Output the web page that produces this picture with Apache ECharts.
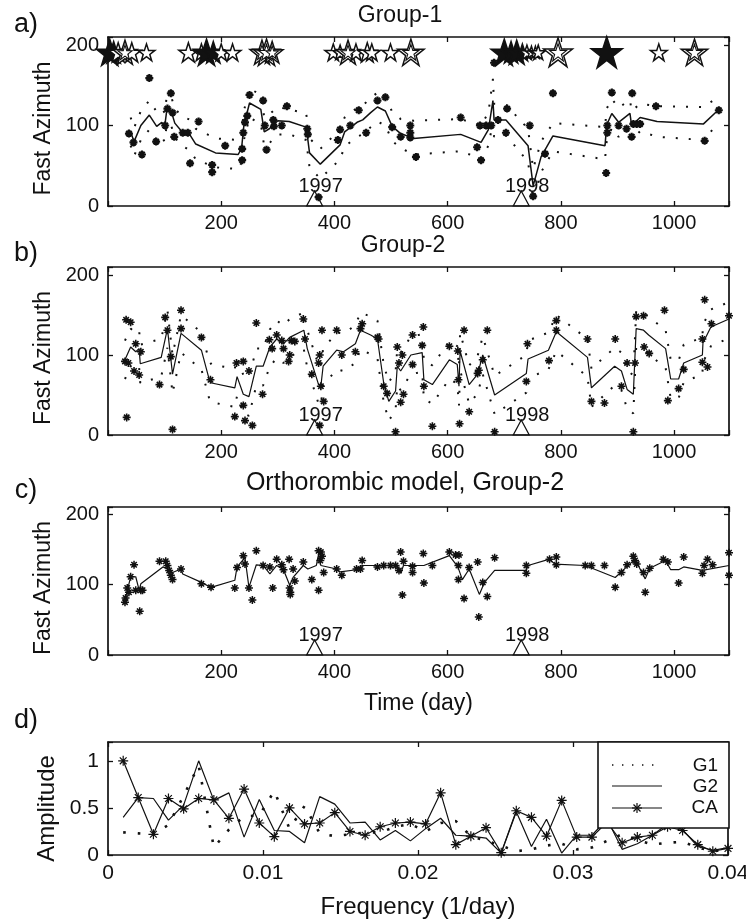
<!DOCTYPE html>
<html><head><meta charset="utf-8">
<script src="https://cdn.jsdelivr.net/npm/echarts/dist/echarts.min.js"></script>
<style>html,body{margin:0;padding:0;background:#fff}#c{width:746px;height:923px}</style>
</head><body><div id="c"></div>
<script>
// ---------- Panel a (Group-1) ----------
const tA  = [40,46,58,73,86,95,100,104,112,118,130,145,155,190,230,236,240,250,270,276,285,300,320,350,352,356,375,410,418,440,450,464,476,490,502,517,540,623,659,672,680,682,703,742,751,765,786,878,881,890,902,922,925,940,970,1052,1079];
const vA  = [92,80,100,113,99,104,98,120,117,103,93,88,77,66,64,72,100,128,120,92,96,106,105,98,88,66,52,76,92,104,107,116,123,118,99,90,84,89,79,95,131,107,107,75,25,61,87,75,101,115,104,115,100,110,105,102,120];
const upA = [110,97,118,131,117,121,116,137,135,121,112,107,96,84,82,90,118,146,138,110,114,123,120,115,106,84,71,95,110,122,125,134,141,136,117,108,106,108,100,116,158,127,126,96,46,80,103,98,121,133,122,132,118,127,124,123,136];
const loA = [75,62,82,95,81,86,80,102,99,85,75,69,58,48,46,54,82,110,102,74,78,89,89,82,71,48,34,58,74,86,89,98,105,100,81,72,64,68,59,75,104,86,88,55,8,42,68,58,81,97,86,98,82,93,86,82,104];
const ptA_t = [37,45,60,73,85,101,105,111,114,117,132,141,145,160,184,184,207,237,237,239,242,246,250,274,277,280,292,293,307,316,352,353,372,406,410,428,443,456,476,490,502,517,534,534,534,544,623,652,659,657,668,677,682,689,703,705,745,751,772,786,880,882,882,890,902,926,916,925,928,934,940,968,1054,1079];
const ptA_v = [90,79,64,159,80,100,121,140,116,86,91,91,53,105,51,42,75,57,71,91,104,112,138,131,100,70,107,99,100,124,96,89,11,82,95,100,119,91,131,135,98,86,100,91,85,61,110,73,57,100,100,100,178,107,91,121,100,12,65,140,41,100,91,141,100,140,96,86,102,102,102,124,81,119];
const starT    = [3,10,18,30,42,68,142,165,174,186,200,220,272,280,290,398,410,424,438,458,466,499,535,700,712,722,732,740,748,755,760,795,881,973,1036];
const starSize = [22,18,16,20,16,14,16,14,22,18,14,14,20,22,18,14,12,20,14,16,14,14,22,22,18,20,14,12,10,10,12,24,26,14,22];
const starFill = [1,1,0,0,0,0,0,0,1,1,0,0,0,0,0,0,0,0,0,0,0,0,0,1,1,1,1,0,0,0,0,0,1,0,0];

// ---------- Panel b (Group-2) ----------
const tB  = [30,40,49,55,57,94,105,114,129,165,179,183,224,228,239,249,262,274,286,298,310,321,346,352,372,376,380,404,416,437,446,464,476,487,496,508,511,517,535,555,558,573,603,617,620,622,638,653,662,683,739,742,778,792,847,854,895,907,917,928,933,946,955,985,994,1008,1017,1050,1051,1065,1097];
const vB  = [94,110,104,108,89,97,133,76,127,106,69,65,59,73,51,48,86,86,110,120,114,122,131,108,63,61,86,106,104,114,131,125,120,65,42,55,86,80,100,103,69,63,94,88,61,105,63,76,100,50,77,95,106,129,97,59,86,80,57,51,133,131,125,108,70,70,90,100,115,135,145];
const upB = [118,133,128,131,113,120,156,100,150,128,92,88,83,96,75,72,108,108,132,143,137,145,153,131,87,85,108,128,127,137,153,148,143,88,66,79,108,103,123,126,93,87,117,111,85,128,87,99,123,74,100,118,128,150,120,83,109,103,80,75,155,153,148,131,94,93,113,122,138,157,166];
const loB = [70,86,80,84,65,73,109,52,103,82,45,41,35,49,27,24,62,62,86,96,90,98,107,84,39,37,62,82,80,90,107,101,96,41,18,31,62,56,76,79,45,39,70,64,37,81,39,52,76,26,53,71,82,105,73,35,62,56,33,27,109,107,101,84,46,46,66,76,91,111,121];
const ptB_t = [32,40,30,36,33,49,46,55,58,91,101,105,111,114,129,129,165,181,227,239,224,239,242,255,249,262,273,285,290,298,307,310,319,321,324,330,345,348,360,372,374,378,374,381,376,404,413,437,449,446,476,478,487,493,508,511,514,517,520,522,538,538,557,555,558,573,603,618,619,621,629,638,653,655,662,670,683,741,739,779,792,792,847,854,877,896,907,917,928,931,933,946,947,956,983,989,1008,1017,1050,1050,1059,1054,1066,1097];
const ptB_v = [144,141,92,90,22,114,80,75,104,63,147,131,98,7,156,133,122,69,90,92,23,37,18,12,80,140,51,119,108,125,118,108,92,100,118,117,145,120,76,90,100,131,12,42,61,131,100,104,139,133,122,120,61,52,4,110,90,41,100,51,125,88,135,112,61,11,111,105,69,14,131,29,77,81,94,131,4,114,67,93,143,131,120,42,40,120,61,90,4,90,148,149,110,102,156,43,58,82,120,91,85,169,139,149];

// ---------- Panel c (Orthorombic model, Group-2) ----------
const tC  = [30,40,49,55,58,97,105,114,129,132,165,182,224,228,242,249,262,274,286,298,310,321,327,345,353,368,372,376,404,410,439,449,464,511,517,522,558,603,618,626,638,656,665,683,739,742,780,789,843,896,931,949,957,985,994,1008,1017,1050,1097];
const vC  = [78,111,111,92,101,125,122,117,122,115,103,96,106,125,138,96,128,127,115,127,121,99,110,127,122,127,143,127,122,118,121,127,127,127,116,127,127,141,125,107,122,86,103,120,120,127,136,129,127,110,136,108,123,134,121,121,125,120,127];
const ptC_t = [30,31,34,37,40,46,49,56,58,61,91,102,105,108,111,114,129,165,182,224,228,239,242,249,255,262,274,286,291,298,307,310,320,321,322,322,327,330,345,360,372,372,375,376,378,381,404,413,439,446,449,476,487,499,508,514,517,520,522,538,538,557,558,573,603,614,620,619,619,629,638,653,655,662,670,683,739,739,780,792,792,843,854,877,896,907,917,928,931,934,946,949,957,981,989,1008,1017,1050,1053,1059,1068,1097,1097];
const ptC_v = [75,81,95,89,111,128,92,62,92,92,133,133,127,120,113,107,122,101,96,95,124,141,129,95,78,148,127,125,95,136,128,121,136,95,89,86,122,105,132,107,148,92,134,146,140,117,122,113,122,122,134,125,127,127,127,120,146,85,133,126,117,144,102,127,146,142,142,127,107,80,124,132,54,103,83,138,127,116,136,139,128,127,127,127,96,117,128,140,134,129,117,89,123,136,132,102,139,116,127,136,128,113,145];

// year markers
const yearT = [365, 730];
const yearLbl = ['1997', '1998'];

// ---------- Panel d (spectra) ----------
const freq = [0.00098,0.00195,0.00293,0.0039,0.00488,0.00585,0.00683,0.0078,0.00878,0.00976,0.01073,0.01171,0.01268,0.01366,0.01463,0.01561,0.01659,0.01756,0.01854,0.01951,0.02049,0.02146,0.02244,0.02341,0.02439,0.02537,0.02634,0.02732,0.02829,0.02927,0.03024,0.03122,0.0322,0.03317,0.03415,0.03512,0.0361,0.03707,0.03805,0.03902,0.04];
const ampG1 = [0.24,0.23,0.22,0.32,0.63,0.95,0.08,0.27,0.41,0.42,0.68,0.28,0.52,0.23,0.20,0.22,0.24,0.24,0.30,0.33,0.25,0.34,0.36,0.20,0.15,0.10,0.04,0.06,0.10,0.12,0.06,0.08,0.15,0.22,0.16,0.11,0.13,0.14,0.08,0.04,0.06];
const ampG2 = [0.40,0.61,0.60,0.37,0.53,1.00,0.58,0.66,0.19,0.59,0.26,0.25,0.13,0.62,0.54,0.34,0.35,0.16,0.26,0.15,0.28,0.39,0.21,0.20,0.18,0.02,0.46,0.09,0.38,0.02,0.21,0.21,0.38,0.06,0.12,0.21,0.33,0.27,0.09,0.05,0.08];
const ampCA = [1.00,0.61,0.22,0.60,0.49,0.60,0.585,0.39,0.70,0.34,0.195,0.50,0.33,0.34,0.45,0.25,0.21,0.30,0.34,0.35,0.33,0.66,0.11,0.20,0.29,0.025,0.47,0.40,0.20,0.58,0.19,0.19,0.35,0.13,0.19,0.21,0.30,0.26,0.11,0.04,0.07];

const xTicksDay = [200, 400, 600, 800, 1000];
const yTicksAz = [0, 100, 200];

// ---------- build ----------
const F = 'Liberation Sans, Arial, Helvetica, sans-serif';
const INK = '#111111';
const AST = 'path://M0 5L10 5M5 0L5 10M1.6 1.6L8.4 8.4M8.4 1.6L1.6 8.4';
const STAR = 'path://M50 0L61.8 35.1L97.6 35.1L68.8 56.7L79.4 90.5L50 69.1L20.6 90.5L31.2 56.7L2.4 35.1L38.2 35.1Z';
const STAR_LEVEL = 191;
const STAR_SCALE = 1.2;
const pairs = (xs, ys) => xs.map((x, i) => [x, ys[i]]);

const grids = [
  {left:108, top:37,  width:621, height:169},
  {left:108, top:267, width:621, height:168},
  {left:108, top:507, width:621, height:148},
  {left:108, top:742, width:620, height:113}
].map(g => Object.assign(g, {containLabel:false, outerBoundsMode:'none'}));

const axLine = {show:true, onZero:false, lineStyle:{color:INK, width:1.7}};
const axTick = {show:true, inside:true, length:5, lineStyle:{color:INK, width:1.3}};
const noSplit = {show:false};

function dayX(gi, pos, name) {
  const ax = {gridIndex:gi, type:'value', position:pos, min:0, max:1097, interval:200,
    axisLine:axLine, axisTick:axTick, splitLine:noSplit,
    axisLabel:{show:pos==='bottom', fontSize:20, color:INK, fontFamily:F, margin:7,
      formatter: v => xTicksDay.indexOf(v) >= 0 ? String(v) : ''}};
  if (name) Object.assign(ax, {name:name, nameLocation:'middle', nameGap:37,
    nameTextStyle:{fontSize:23, color:INK, fontFamily:F}});
  return ax;
}
function azY(gi, pos) {
  const ax = {gridIndex:gi, type:'value', position:pos, min:0, max:210, interval:100,
    axisLine:axLine, axisTick:axTick, splitLine:noSplit,
    axisLabel:{show:pos==='left', fontSize:20, color:INK, fontFamily:F, margin:9,
      formatter: v => yTicksAz.indexOf(v) >= 0 ? String(v) : ''}};
  if (pos === 'left') Object.assign(ax, {name:'Fast Azimuth', nameLocation:'middle', nameGap:50,
    nameTextStyle:{fontSize:23, color:INK, fontFamily:F, padding:[0, 14, 0, 0]}});
  return ax;
}
function fX(pos) {
  const ax = {gridIndex:3, type:'value', position:pos, min:0, max:0.04, interval:0.01,
    axisLine:axLine, axisTick:axTick, splitLine:noSplit,
    axisLabel:{show:pos==='bottom', fontSize:21, color:INK, fontFamily:F, margin:8}};
  if (pos === 'bottom') Object.assign(ax, {name:'Frequency (1/day)', nameLocation:'middle', nameGap:40,
    nameTextStyle:{fontSize:24, color:INK, fontFamily:F}});
  return ax;
}
function aY(pos) {
  const ax = {gridIndex:3, type:'value', position:pos, min:0, max:1.2, interval:0.5,
    axisLine:axLine, axisTick:axTick, splitLine:noSplit,
    axisLabel:{show:pos==='left', fontSize:21, color:INK, fontFamily:F, margin:9,
      formatter: v => (Math.abs(v * 2 - Math.round(v * 2)) < 1e-9) ? String(+v.toFixed(2)) : ''}};
  if (pos === 'left') Object.assign(ax, {name:'Amplitude', nameLocation:'middle', nameGap:40,
    nameTextStyle:{fontSize:24, color:INK, fontFamily:F, padding:[0, 20, 0, 0]}});
  return ax;
}

const xAxis = [dayX(0,'bottom'), dayX(0,'top'), dayX(1,'bottom'), dayX(1,'top'),
               dayX(2,'bottom','Time (day)'), dayX(2,'top'), fX('bottom'), fX('top')];
const yAxis = [azY(0,'left'), azY(0,'right'), azY(1,'left'), azY(1,'right'),
               azY(2,'left'), azY(2,'right'), aY('left'), aY('right')];

function dotted(ai, xs, ys) {
  return {type:'line', xAxisIndex:ai, yAxisIndex:ai, data:pairs(xs, ys), showSymbol:false, silent:true,
    lineStyle:{color:INK, width:2, type:[2, 11], opacity:1}, z:3};
}
function solid(ai, xs, ys, w) {
  return {type:'line', xAxisIndex:ai, yAxisIndex:ai, data:pairs(xs, ys), showSymbol:false, silent:true,
    lineStyle:{color:INK, width:w || 1.3, opacity:1}, z:4};
}
function asterisks(ai, xs, ys, size, bw) {
  return {type:'scatter', xAxisIndex:ai, yAxisIndex:ai, data:pairs(xs, ys), symbol:AST, symbolSize:size,
    silent:true, itemStyle:{color:'rgba(0,0,0,0)', borderColor:INK, borderWidth:bw, opacity:1}, z:5};
}
function years(ai) {
  return {type:'scatter', xAxisIndex:ai, yAxisIndex:ai, clip:false, silent:true, z:6,
    data: yearT.map((t, i) => ({value:[t, 0], name:yearLbl[i]})),
    symbol:'triangle', symbolSize:[16, 15], symbolOffset:[0, '-50%'],
    itemStyle:{color:'rgba(0,0,0,0)', borderColor:INK, borderWidth:1.2, opacity:1},
    label:{show:true, formatter:'{b}', position:'top', distance:-6, offset:[6, 0],
      fontSize:20, color:INK, fontFamily:F, opacity:1}};
}

const starData = starT.map((t, i) => [t, STAR_LEVEL, starSize[i], starFill[i]]);

const series = [
  dotted(0, tA, upA), dotted(0, tA, loA), solid(0, tA, vA, 1.5),
  asterisks(0, ptA_t, ptA_v, 8, 2.2),
  {type:'scatter', xAxisIndex:0, yAxisIndex:0, data:starData, symbol:STAR, clip:false, silent:true, z:8,
    symbolSize: d => d[2] * STAR_SCALE,
    itemStyle:{color: p => p.data[3] ? INK : '#fff', borderColor:INK, borderWidth:1.5, opacity:1}},
  {type:'scatter', xAxisIndex:0, yAxisIndex:0, data:starData.filter(d => !d[3] && d[2] >= 18), symbol:STAR,
    clip:false, silent:true, z:9, symbolSize: d => d[2] * STAR_SCALE * 0.6,
    itemStyle:{color:'#fff', borderColor:INK, borderWidth:1.1, opacity:1}},
  years(0),

  dotted(2, tB, upB), dotted(2, tB, loB), solid(2, tB, vB, 1.2),
  asterisks(2, ptB_t, ptB_v, 8, 1.6),
  years(2),

  solid(4, tC, vC, 1.2),
  asterisks(4, ptC_t, ptC_v, 8, 1.5),
  years(4),

  {type:'line', xAxisIndex:6, yAxisIndex:6, data:pairs(freq, ampG1), showSymbol:false, silent:true, z:3,
    lineStyle:{color:INK, width:2.6, type:[2.6, 12]}},
  {type:'line', xAxisIndex:6, yAxisIndex:6, data:pairs(freq, ampG2), showSymbol:false, silent:true, z:4,
    lineStyle:{color:INK, width:1.2}},
  {type:'line', xAxisIndex:6, yAxisIndex:6, data:pairs(freq, ampCA), showSymbol:true, showAllSymbol:true,
    symbol:AST, symbolSize:10, silent:true, z:5,
    itemStyle:{color:'rgba(0,0,0,0)', borderColor:INK, borderWidth:1.2, opacity:1},
    lineStyle:{color:INK, width:1.2}}
];

function txt(x, y, s, size, align) {
  return {type:'text', x:x, y:y, silent:true, z:100,
    style:{text:s, fontSize:size, fontFamily:F, fill:INK, align:align || 'center', verticalAlign:'middle',
      textAlign:align || 'center', textVerticalAlign:'middle'}};
}
function ln(x1, y1, x2, y2, w, dash) {
  return {type:'line', silent:true, z:101, shape:{x1:x1, y1:y1, x2:x2, y2:y2},
    style:{stroke:INK, lineWidth:w, lineDash:dash || null}};
}
const lgX = 637, lgY = 808, r = 5;
const graphic = [
  txt(26, 25, 'a)', 27), txt(26, 254, 'b)', 27), txt(26, 491, 'c)', 27), txt(26, 721, 'd)', 27),
  txt(400, 16, 'Group-1', 23), txt(403, 246, 'Group-2', 23), txt(405, 483, 'Orthorombic model, Group-2', 25),
  {type:'rect', silent:true, z:100, shape:{x:598, y:742, width:131, height:86},
    style:{fill:'#fff', stroke:INK, lineWidth:1.6}},
  ln(612, 765, 662, 765, 1.4, [1.4, 8.6]),
  ln(612, 786, 662, 786, 1.2),
  ln(612, 808, 662, 808, 1.2),
  ln(lgX - r, lgY, lgX + r, lgY, 1.2), ln(lgX, lgY - r, lgX, lgY + r, 1.2),
  ln(lgX - 3.5, lgY - 3.5, lgX + 3.5, lgY + 3.5, 1.2), ln(lgX + 3.5, lgY - 3.5, lgX - 3.5, lgY + 3.5, 1.2),
  txt(718, 766, 'G1', 19, 'right'), txt(718, 787, 'G2', 19, 'right'), txt(718, 808, 'CA', 19, 'right')
];

const chart = echarts.init(document.getElementById('c'), null, {renderer:'canvas'});
chart.setOption({
  animation:false, backgroundColor:'#fff',
  textStyle:{fontFamily:F, color:INK},
  grid:grids, xAxis:xAxis, yAxis:yAxis, series:series, graphic:graphic
});
</script></body></html>
